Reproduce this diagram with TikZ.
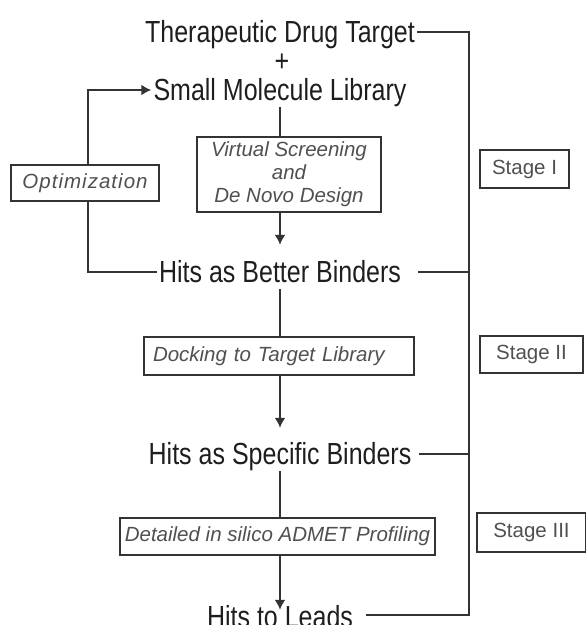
\documentclass[tikz,border=0pt]{standalone}
\usepackage{fontspec}
\setmainfont{Liberation Sans}
\newfontfamily\lblfont[FakeStretch=0.82]{Liberation Sans}
\newfontfamily\optfont[LetterSpace=5]{Liberation Sans}
\usetikzlibrary{arrows.meta,positioning}
\definecolor{linegray}{HTML}{333333}
\definecolor{inkgray}{HTML}{1E1E1E}
\definecolor{softgray}{HTML}{505050}
\tikzset{every node/.append style={transform shape=false}}
\tikzset{mainlbl/.style={font=\lblfont\fontsize{30.5}{36}\selectfont, text=inkgray,
  text height=24pt, text depth=4pt, inner xsep=2pt, inner ysep=3pt}}
\tikzset{taskbox/.style={draw=linegray, line width=2pt, fill=white, text=softgray,
  font=\fontsize{20.5}{23}\selectfont\itshape, inner sep=0pt, align=center}}
\tikzset{stagebox/.style={taskbox, font=\fontsize{20.5}{23}\selectfont}}
\tikzset{link/.style={draw=linegray, line width=2.5pt}}

\begin{document}
\begin{tikzpicture}[x=1pt,y=-1pt,>={Latex[length=10pt,width=11pt]}]
\useasboundingbox (0,0) rectangle (586,625);
\clip (0,0) rectangle (586,625);
\node[mainlbl] (tdt) at (280,32) {Therapeutic Drug Target};
\node[mainlbl, text height=, text depth=] (plus) at (282,63) {+};
\node[mainlbl] (sml) at (280,90) {Small Molecule Library};
\node[mainlbl] (hbb) at (280,272) {Hits as Better Binders};
\node[mainlbl] (hsb) at (280,454) {Hits as Specific Binders};
\node[mainlbl] (htl) at (280,617) {Hits to Leads};
% optimization loop
\coordinate (loopx) at (88,0);
\draw[link,->] (hbb.west) -- (hbb.west -| loopx) |- (sml.west);
\node[taskbox, font=\optfont\fontsize{20.5}{23}\selectfont\itshape,
  minimum width=148pt, minimum height=36pt] (opt) at (85,183) {Optimization};
\node[taskbox, minimum width=184pt, minimum height=75pt] (vs) at (289,174.5)
  {Virtual Screening\\and\\De Novo Design};
\node[taskbox, text width=252pt, align=left, inner xsep=9pt, minimum height=38pt]
  (dock) at (279,356) {Docking to Target Library};
\node[taskbox, minimum width=315pt, minimum height=37pt] (admet) at (277.5,536.5)
  {Detailed in silico ADMET Profiling};
\node[stagebox, minimum width=89pt, minimum height=38pt] (st1) at (524.5,169) {Stage I};
\node[stagebox, minimum width=103pt, minimum height=37pt] (st2) at (531.5,354.5) {Stage II};
\node[stagebox, minimum width=109pt, minimum height=39pt] (st3) at (531.5,532.5) {Stage III};
% main flow
\draw[link] (sml.south) -- (sml.south |- vs.north);
\draw[link,->,shorten >=10pt] (vs.south -| sml.south) -- (hbb.north);
\draw[link] (hbb.south) -- (hbb.south |- dock.north);
\draw[link,->,shorten >=9pt] (dock.south -| hbb.south) -- (hsb.north);
\draw[link] (hsb.south) -- (hsb.south |- admet.north);
\draw[link,->,shorten >=-10pt] (admet.south -| hsb.south) -- (htl.north);
% stage rail
\coordinate (railend) at (469,615);
\draw[link] (tdt.east) -| (railend) -- ([xshift=11pt]railend -| htl.east);
\draw[link,shorten <=15pt] (hbb.east) -- (hbb.east -| railend);
\draw[link,shorten <=5pt] (hsb.east) -- (hsb.east -| railend);
\end{tikzpicture}
\end{document}
